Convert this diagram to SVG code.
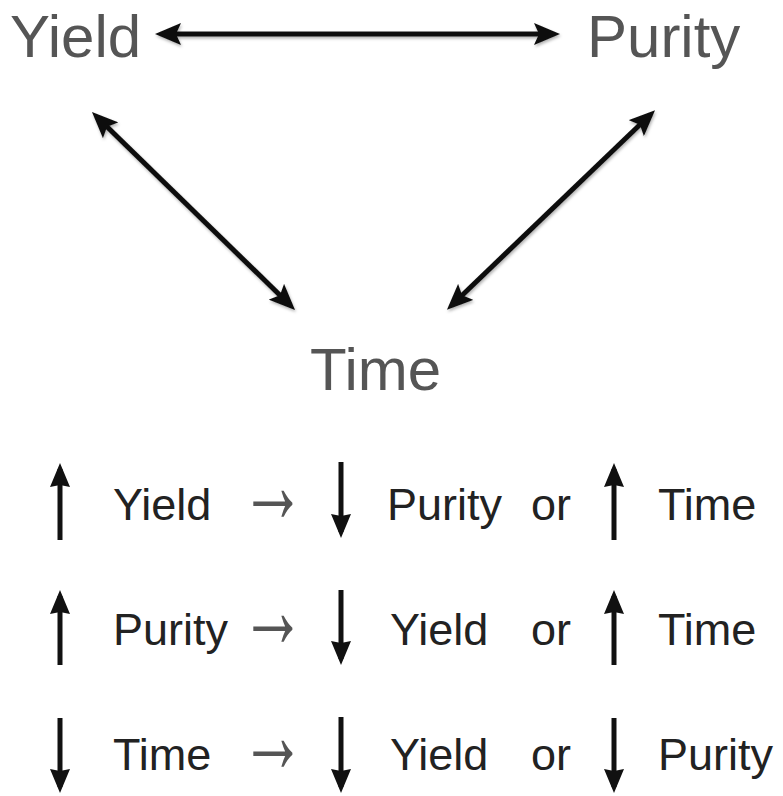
<svg xmlns="http://www.w3.org/2000/svg" width="783" height="796" viewBox="0 0 783 796">
<defs>
<marker id="ah" viewBox="0 0 26 22" markerWidth="26" markerHeight="22" refX="19" refY="11" orient="auto-start-reverse" markerUnits="userSpaceOnUse">
<path d="M0,0 L26,11 L0,22 L5,11 z" fill="#111"/>
</marker>
<marker id="ahs" viewBox="0 0 24 20" markerWidth="24" markerHeight="20" refX="18" refY="10" orient="auto-start-reverse" markerUnits="userSpaceOnUse">
<path d="M0,0 L24,10 L0,20 L2,10 z" fill="#111"/>
</marker>
<filter id="sh" x="-10%" y="-10%" width="120%" height="120%">
<feDropShadow dx="1" dy="2" stdDeviation="1.5" flood-color="#000" flood-opacity="0.3"/>
</filter>
</defs>
<style>
.big{font-family:"Liberation Sans",Arial,sans-serif;font-size:60px;fill:#555}
.sm{font-family:"Liberation Sans",Arial,sans-serif;font-size:45px;fill:#222}
.ar{font-family:"Liberation Sans","DejaVu Sans",sans-serif;font-size:110px;fill:#555}
.c{stroke:#111;stroke-width:5;fill:none;marker-start:url(#ah);marker-end:url(#ah)}
.v{stroke:#111;stroke-width:5;fill:none;marker-end:url(#ahs)}
</style>
<rect width="783" height="796" fill="#fff"/>
<g id="yield"><text class="big" x="10" y="57">Yield</text></g>
<g id="purity"><text class="big" x="587" y="57">Purity</text></g>
<g id="time"><text class="big" x="310" y="390">Time</text></g>
<g id="connectors" filter="url(#sh)">
<line class="c" x1="162" y1="34" x2="553" y2="34"/>
<line class="c" x1="97" y1="117" x2="290" y2="305"/>
<line class="c" x1="650" y1="115" x2="452" y2="305"/>
</g>
<g id="rules">
<g id="row1">
<line class="v" x1="60" y1="540" x2="60" y2="469"/>
<text class="sm" x="113" y="520">Yield</text>
<text class="ar" x="240" y="522" textLength="66" lengthAdjust="spacingAndGlyphs">→</text>
<line class="v" x1="341" y1="462" x2="341" y2="532"/>
<text class="sm" x="387" y="520">Purity</text>
<text class="sm" x="531" y="520">or</text>
<line class="v" x1="614" y1="540" x2="614" y2="469"/>
<text class="sm" x="658" y="520">Time</text>
</g>
<g id="row2">
<line class="v" x1="60" y1="665" x2="60" y2="596"/>
<text class="sm" x="113" y="645">Purity</text>
<text class="ar" x="240" y="647" textLength="66" lengthAdjust="spacingAndGlyphs">→</text>
<line class="v" x1="341" y1="590" x2="341" y2="659"/>
<text class="sm" x="390" y="645">Yield</text>
<text class="sm" x="531" y="645">or</text>
<line class="v" x1="614" y1="665" x2="614" y2="596"/>
<text class="sm" x="658" y="645">Time</text>
</g>
<g id="row3">
<line class="v" x1="60" y1="718" x2="60" y2="787"/>
<text class="sm" x="113" y="770">Time</text>
<text class="ar" x="240" y="772" textLength="66" lengthAdjust="spacingAndGlyphs">→</text>
<line class="v" x1="341" y1="717" x2="341" y2="787"/>
<text class="sm" x="390" y="770">Yield</text>
<text class="sm" x="531" y="770">or</text>
<line class="v" x1="614" y1="718" x2="614" y2="787"/>
<text class="sm" x="658" y="770">Purity</text>
</g>
</g>
</svg>
